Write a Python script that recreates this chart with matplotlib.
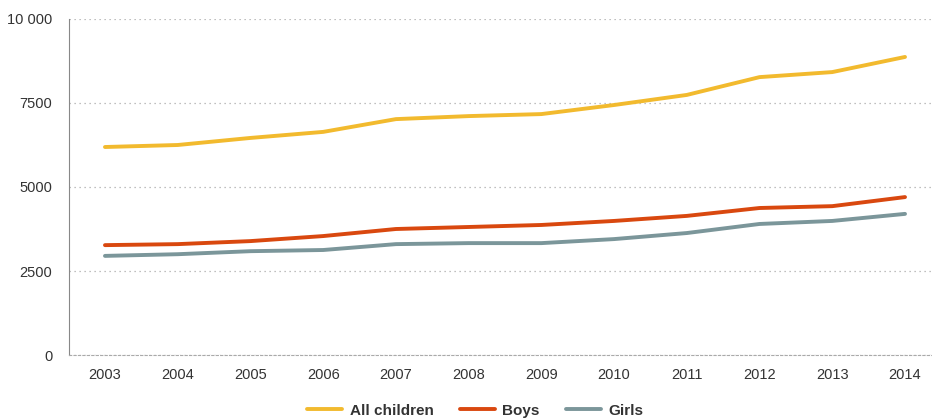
import matplotlib
matplotlib.use('Agg')
import matplotlib.pyplot as plt
from matplotlib.ticker import FuncFormatter

plt.rcParams['font.family'] = ['Liberation Sans', 'DejaVu Sans']

years = list(range(2003, 2015))
all_children = [6190, 6250, 6460, 6640, 7020, 7110, 7170, 7440, 7740, 8270, 8420, 8870]
boys = [3270, 3300, 3390, 3540, 3750, 3810, 3870, 3990, 4140, 4375, 4430, 4700]
girls = [2950, 3000, 3090, 3125, 3300, 3330, 3330, 3450, 3630, 3900, 3990, 4200]
y_ticks = [0, 2500, 5000, 7500, 10000]

fig = plt.figure(figsize=(9.32, 4.19), dpi=100)
ax = fig.add_axes([0.074, 0.1527, 0.926, 0.802])

ax.plot(years, all_children, color='#F2BA2E', lw=2.8, label='All children', solid_capstyle='round')
ax.plot(years, boys, color='#D9480F', lw=2.8, label='Boys', solid_capstyle='round')
ax.plot(years, girls, color='#7B969A', lw=2.8, label='Girls', solid_capstyle='round')

ax.set_xlim(2002.505, 2014.371)
ax.set_ylim(0, 10000)
ax.set_xticks(years)
ax.set_yticks(y_ticks)
ax.yaxis.set_major_formatter(FuncFormatter(lambda v, p: '10 000' if v == 10000 else '%d' % v))
ax.tick_params(axis='both', length=0, labelsize=10.5, colors='#333333')
ax.tick_params(axis='y', pad=12)
ax.tick_params(axis='x', pad=9)

ax.grid(axis='y', linestyle=(0, (1, 3)), color='#aaaaaa', lw=0.9)
for s in ['top', 'right']:
    ax.spines[s].set_visible(False)
ax.spines['left'].set_color('#888888')
ax.spines['bottom'].set_color('#aaaaaa')
ax.spines['bottom'].set_linestyle((0, (2, 2)))

leg = fig.legend(loc='lower center', bbox_to_anchor=(0.51, -0.03), ncol=3, frameon=False,
                 prop={'weight': 'bold', 'size': 11}, handlelength=2.3, columnspacing=1.7,
                 handletextpad=0.5)
for t in leg.get_texts():
    t.set_color('#333333')

fig.savefig('out.png', dpi=100)
